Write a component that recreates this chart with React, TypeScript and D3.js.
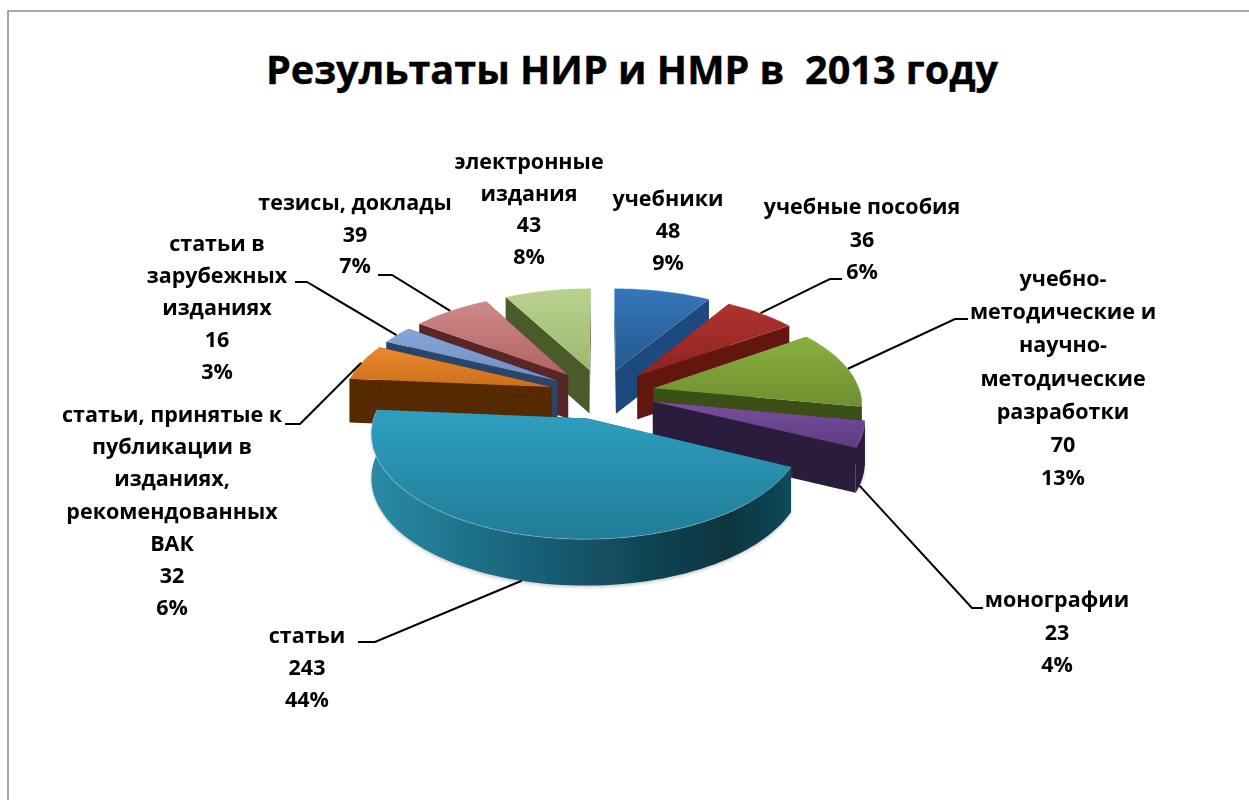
import React from "react";
import * as d3 from "d3";

const categories = [
  "учебники",
  "учебные пособия",
  "учебно-методические и научно-методические разработки",
  "монографии",
  "статьи",
  "статьи, принятые к публикации в изданиях, рекомендованных ВАК",
  "статьи в зарубежных изданиях",
  "тезисы, доклады",
  "электронные издания",
];
const values = [48, 36, 70, 23, 243, 32, 16, 39, 43];
const percents = ["9%", "6%", "13%", "4%", "44%", "6%", "3%", "7%", "8%"];
const titleText = "Результаты НИР и НМР в  2013 году";

// label wrapping and placement
const labelLines = [
  ["учебники"],
  ["учебные пособия"],
  ["учебно-", "методические и", "научно-", "методические", "разработки"],
  ["монографии"],
  ["статьи"],
  ["статьи, принятые к", "публикации в", "изданиях,", "рекомендованных", "ВАК"],
  ["статьи в", "зарубежных", "изданиях"],
  ["тезисы, доклады"],
  ["электронные", "издания"],
];
const labelCx = [668, 862, 1063, 1057, 307, 172, 217, 355, 529];
const labelTop = [199, 207, 279, 600, 636, 415, 244, 203, 162];
const labelStep = [32, 32.5, 33.2, 32.5, 32, 32.2, 32, 31.5, 31.7];

// leader lines: anchor angle on the slice, on top edge (0) or bottom of wall (1), then elbow path
const leaders: ({ i: number; deg: number; h: number; pts: [number, number][] })[] = [
  { i: 1, deg: 43, h: 0, pts: [[830, 279], [842, 279]] },
  { i: 2, deg: 78, h: 0, pts: [[955, 319], [968, 319]] },
  { i: 3, deg: 112, h: 1, pts: [[972, 608], [983, 608]] },
  { i: 4, deg: 195, h: 1, pts: [[375, 642], [358, 642]] },
  { i: 5, deg: 285, h: 0, pts: [[300, 424], [285, 424]] },
  { i: 6, deg: 301, h: 0, pts: [[307, 282], [295, 282]] },
  { i: 7, deg: 319, h: 0, pts: [[392, 275], [378, 275]] },
];

const topColors = [
  ["#3476ba", "#27598f"],
  ["#b0322e", "#8c2522"],
  ["#8bb03e", "#6d8f30"],
  ["#7a4f9f", "#5d3c80"],
  ["#2f9fc0", "#217c98"],
  ["#ea8a2c", "#cc6f1c"],
  ["#86a5d8", "#6f8fc4"],
  ["#cf8a88", "#b06262"],
  ["#b9d28e", "#9eb96d"],
];
const sideColors = ["#1f4a7e", "#641511", "#3a4f16", "#2c1c3c", "#15566c", "#542905", "#2a4468", "#582828", "#4b5a2c"];
// draw order, back to front
const drawOrder = [8, 0, 7, 1, 6, 5, 2, 3, 4];

const CX = 602;
const CY = 393.5;
const R = 207;
const EXPLODE = 53;
const TILT = 0.473;
const PERSP = 0.13;
const DEPTH = 44;
const rad = (d: number) => (d * Math.PI) / 180;

const pieGen = d3.pie<number>().sort(null).startAngle(0).endAngle(2 * Math.PI);
const arcs = pieGen(values);

function project(xw: number, yw: number, h: number): [number, number] {
  const s = 1 / (1 + (PERSP * yw) / R);
  return [CX + xw * s, CY - yw * TILT * s + h * DEPTH * Math.pow(s, 0.3)];
}
function sliceOrigin(i: number): [number, number] {
  const m = (arcs[i].startAngle + arcs[i].endAngle) / 2;
  return [EXPLODE * Math.sin(m), EXPLODE * Math.cos(m)];
}
function apex(i: number, h: number) {
  const [ox, oy] = sliceOrigin(i);
  return project(ox, oy, h);
}
function edge(i: number, a: number, h: number) {
  const [ox, oy] = sliceOrigin(i);
  return project(ox + R * Math.sin(a), oy + R * Math.cos(a), h);
}
const lineGen = d3.line<[number, number]>();
function samples(a0: number, a1: number) {
  const n = Math.max(2, Math.ceil(Math.abs(a1 - a0) / rad(2)));
  return d3.range(n + 1).map((k) => a0 + ((a1 - a0) * k) / n);
}
function topPath(i: number) {
  const d = arcs[i];
  return lineGen([apex(i, 0), ...samples(d.startAngle, d.endAngle).map((a) => edge(i, a, 0))]) + "Z";
}
function rimPath(i: number) {
  const d = arcs[i];
  return lineGen(samples(d.startAngle, d.endAngle).map((a) => edge(i, a, 0)))!;
}
function cutPath(i: number, a: number) {
  return lineGen([apex(i, 0), edge(i, a, 0), edge(i, a, 1), apex(i, 1)]) + "Z";
}
function wallPath(i: number) {
  const d = arcs[i];
  const a0 = Math.max(d.startAngle, rad(90));
  const a1 = Math.min(d.endAngle, rad(276));
  if (a1 <= a0) return null;
  const s = samples(a0, a1);
  return lineGen([...s.map((a) => edge(i, a, 0)), ...s.slice().reverse().map((a) => edge(i, a, 1))]) + "Z";
}

const FONT = "'Open Sans', 'Noto Sans', sans-serif";

export default function App() {
  return (
    <svg
      width={1249}
      height={800}
      style={{ position: "absolute", left: 0, top: 0, display: "block", background: "#fff" }}
    >
      <defs>
        <filter id="soft" x="-5%" y="-5%" width="110%" height="110%">
          <feGaussianBlur stdDeviation="0.6" />
        </filter>
        <filter id="shade" x="-5%" y="-5%" width="110%" height="110%">
          <feGaussianBlur stdDeviation="1.6" />
        </filter>
        {topColors.map((c, i) => (
          <linearGradient key={i} id={`top${i}`} x1="0" y1="0" x2="0" y2="1">
            <stop offset="0" stopColor={c[0]} />
            <stop offset="1" stopColor={c[1]} />
          </linearGradient>
        ))}
        <linearGradient id="wallTeal" x1="0" y1="0" x2="1" y2="0">
          <stop offset="0" stopColor="#2a8aa6" />
          <stop offset="0.3" stopColor="#1b6a82" />
          <stop offset="0.6" stopColor="#124a5c" />
          <stop offset="0.85" stopColor="#0d3540" />
          <stop offset="1" stopColor="#12495a" />
        </linearGradient>
      </defs>
      <rect x={8} y={11} width={1400} height={1000} fill="#fff" stroke="#8a8a8a" strokeWidth={1.5} />
      <text
        x={632}
        y={84}
        textAnchor="middle"
        fontFamily={FONT}
        fontWeight={700}
        fontSize={39.6}
        fill="#000"
        stroke="#000"
        strokeWidth={0.4}
        style={{ whiteSpace: "pre" }}
      >
        {titleText}
      </text>

      <g filter="url(#soft)">
        {drawOrder.map((i) => {
          const d = arcs[i];
          const wall = wallPath(i);
          return (
            <g key={i}>
              {wall && (
                <path d={wall} fill="#888" opacity={0.4} filter="url(#shade)" transform="translate(0,2)" />
              )}
              <path d={cutPath(i, d.startAngle)} fill={sideColors[i]} />
              <path d={cutPath(i, d.endAngle)} fill={sideColors[i]} />
              {wall && <path d={wall} fill={i === 4 ? "url(#wallTeal)" : sideColors[i]} />}
              <path d={topPath(i)} fill={`url(#top${i})`} />
              <path d={rimPath(i)} fill="none" stroke="#fff" strokeOpacity={0.2} strokeWidth={1.2} />
            </g>
          );
        })}
      </g>

      {leaders.map((l, k) => {
        const start = edge(l.i, rad(l.deg), l.h);
        return (
          <path
            key={k}
            d={lineGen([start, ...l.pts])!}
            fill="none"
            stroke="#000"
            strokeWidth={2}
          />
        );
      })}

      {categories.map((c, i) => {
        const lines = [...labelLines[i], String(values[i]), percents[i]];
        return (
          <text
            key={c}
            textAnchor="middle"
            fontFamily={FONT}
            fontWeight={700}
            fontSize={21.5}
            fill="#000"
          >
            {lines.map((t, j) => (
              <tspan key={j} x={labelCx[i]} y={labelTop[i] + j * labelStep[i] + 7}>
                {t}
              </tspan>
            ))}
          </text>
        );
      })}
    </svg>
  );
}
